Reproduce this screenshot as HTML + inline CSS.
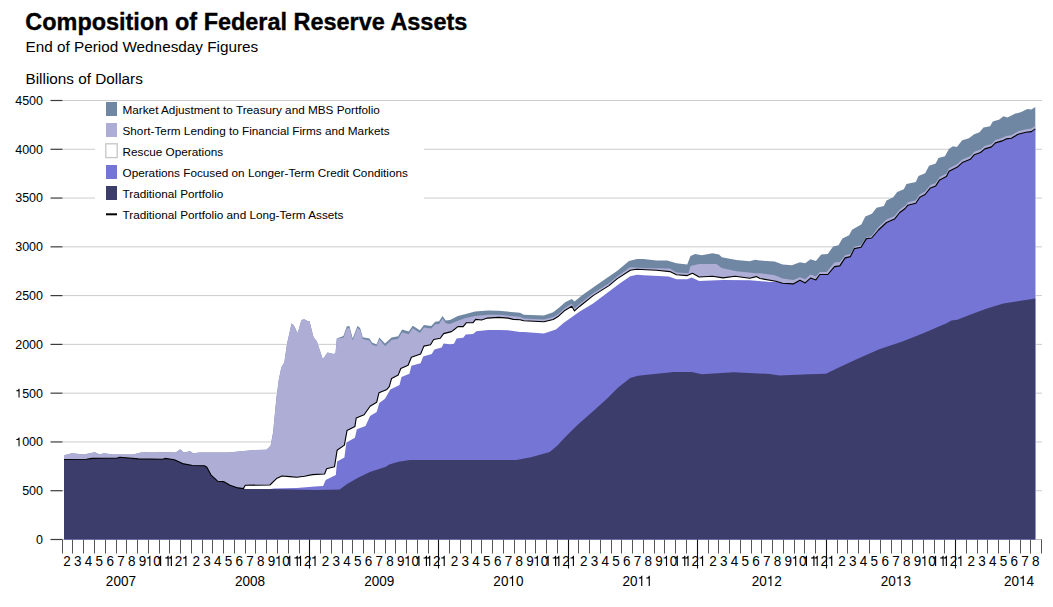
<!DOCTYPE html>
<html><head><meta charset="utf-8"><style>
html,body{margin:0;padding:0;background:#fff;width:1053px;height:607px;overflow:hidden}
svg{position:absolute;left:0;top:0}
text{font-family:"Liberation Sans",sans-serif;fill:#000}
.t1{font-size:23.45px;font-weight:bold;stroke:#000;stroke-width:0.35px}
.t2{font-size:15.3px}
.yl{font-size:12.5px}
.ml{font-size:14.5px}
.yr{font-size:14.4px}
.lg{font-size:11.75px}
</style></head><body>
<svg width="1053" height="607" viewBox="0 0 1053 607">
<defs><path id="one" d="M266 0L350 0L350 709L280 709C262 630 215 592 92 582L92 514L266 514Z"/></defs>
<text x="25.3" y="30.4" class="t1">Composition of Federal Reserve Assets</text>
<text x="25.5" y="51.8" class="t2">End of Period Wednesday Figures</text>
<text x="25.5" y="84" class="t2">Billions of Dollars</text>
<line x1="62.5" x2="1042" y1="490.72" y2="490.72" stroke="#cccccc" stroke-width="1"/>
<line x1="62.5" x2="1042" y1="441.94" y2="441.94" stroke="#cccccc" stroke-width="1"/>
<line x1="62.5" x2="1042" y1="393.17" y2="393.17" stroke="#cccccc" stroke-width="1"/>
<line x1="62.5" x2="1042" y1="344.39" y2="344.39" stroke="#cccccc" stroke-width="1"/>
<line x1="62.5" x2="1042" y1="295.61" y2="295.61" stroke="#cccccc" stroke-width="1"/>
<line x1="62.5" x2="1042" y1="246.83" y2="246.83" stroke="#cccccc" stroke-width="1"/>
<line x1="62.5" x2="1042" y1="198.06" y2="198.06" stroke="#cccccc" stroke-width="1"/>
<line x1="62.5" x2="1042" y1="149.28" y2="149.28" stroke="#cccccc" stroke-width="1"/>
<line x1="62.5" x2="1042" y1="100.5" y2="100.5" stroke="#cccccc" stroke-width="1"/>
<line x1="50.5" x2="62.5" y1="539.5" y2="539.5" stroke="#3c3c3c" stroke-width="1.2"/>
<g transform="translate(43,543.9) scale(1.0,1)"><text x="-6.95" y="0" style="font-size:12.5px">0</text></g>
<line x1="50.5" x2="62.5" y1="490.72" y2="490.72" stroke="#3c3c3c" stroke-width="1.2"/>
<g transform="translate(43,495.12) scale(1.0,1)"><text x="-20.86" y="0" style="font-size:12.5px">500</text></g>
<line x1="50.5" x2="62.5" y1="441.94" y2="441.94" stroke="#3c3c3c" stroke-width="1.2"/>
<g transform="translate(43,446.34) scale(1.0,1)"><use href="#one" transform="translate(-27.81,0) scale(0.01250,-0.01250)"/><text x="-20.86" y="0" style="font-size:12.5px">000</text></g>
<line x1="50.5" x2="62.5" y1="393.17" y2="393.17" stroke="#3c3c3c" stroke-width="1.2"/>
<g transform="translate(43,397.57) scale(1.0,1)"><use href="#one" transform="translate(-27.81,0) scale(0.01250,-0.01250)"/><text x="-20.86" y="0" style="font-size:12.5px">500</text></g>
<line x1="50.5" x2="62.5" y1="344.39" y2="344.39" stroke="#3c3c3c" stroke-width="1.2"/>
<g transform="translate(43,348.79) scale(1.0,1)"><text x="-27.81" y="0" style="font-size:12.5px">2000</text></g>
<line x1="50.5" x2="62.5" y1="295.61" y2="295.61" stroke="#3c3c3c" stroke-width="1.2"/>
<g transform="translate(43,300.01) scale(1.0,1)"><text x="-27.81" y="0" style="font-size:12.5px">2500</text></g>
<line x1="50.5" x2="62.5" y1="246.83" y2="246.83" stroke="#3c3c3c" stroke-width="1.2"/>
<g transform="translate(43,251.23) scale(1.0,1)"><text x="-27.81" y="0" style="font-size:12.5px">3000</text></g>
<line x1="50.5" x2="62.5" y1="198.06" y2="198.06" stroke="#3c3c3c" stroke-width="1.2"/>
<g transform="translate(43,202.46) scale(1.0,1)"><text x="-27.81" y="0" style="font-size:12.5px">3500</text></g>
<line x1="50.5" x2="62.5" y1="149.28" y2="149.28" stroke="#3c3c3c" stroke-width="1.2"/>
<g transform="translate(43,153.68) scale(1.0,1)"><text x="-27.81" y="0" style="font-size:12.5px">4000</text></g>
<line x1="50.5" x2="62.5" y1="100.5" y2="100.5" stroke="#3c3c3c" stroke-width="1.2"/>
<g transform="translate(43,104.9) scale(1.0,1)"><text x="-27.81" y="0" style="font-size:12.5px">4500</text></g>
<line x1="62" x2="1042" y1="539.5" y2="539.5" stroke="#bbb" stroke-width="1"/>
<polygon fill="#7087a3" points="64,539.5 64,455.3 72,453.3 83.9,454.4 94.6,452.2 99.9,454.6 103.9,453.3 113.2,454.4 133.1,454.4 141.1,452.6 146.4,452.2 151.8,452.6 163.7,452.2 175.7,452.6 180.3,449.3 183.7,452.6 190.3,451.3 193,453.3 200,452.6 228.2,452.6 254.8,450 266.5,449.8 270.6,445.7 273.1,432.5 276.4,397.9 278.8,379.8 281.3,367.4 284.3,362.5 287,343.9 291.6,323.3 294.2,325.9 297.6,333.2 301.5,319.9 304.2,319.3 307.5,321 309.5,321.3 313.5,337.2 316.8,341.2 322.8,359.2 327.5,352.5 333.5,353.9 335.5,353.2 336.8,338.6 343.4,335.9 346.8,326.6 349.4,325.9 352.7,338.6 357.4,325.9 360.1,327.9 362.7,337.2 369.4,338.6 372,342.6 376.6,344.5 379.3,337.5 385,343.4 391.6,337.5 398.2,336.2 402.1,329.6 408.7,331.6 412.7,325.7 419.9,330.3 423.9,325 431.2,326 435.2,321.7 439.1,321.3 442.5,316 445.8,320.6 450,320 457.9,316.1 465.8,314.1 475,311.5 488.2,310.5 498.7,310.8 520,312.8 523.9,314.8 543.9,315.5 553.2,312.2 559.8,306.9 565.2,302.2 571.8,298.9 574.5,301.5 582.4,294.9 593.1,287.6 606.4,278.3 617,271 629,261 637,259 643.3,259 656.6,260.6 667.2,260.6 676.5,263.3 687.2,264.6 690.5,256 695.2,254 701.8,255.3 712.4,253.3 719.1,254.6 721.8,257.3 736.4,259.9 749.7,261.3 755,259.7 760,260.6 774.6,261.6 782.6,264.6 791.9,265.2 799.9,262.2 805.2,263.2 810.5,259.3 815.9,260.9 821.2,254.6 827.8,253.9 833.1,246.6 838.5,245.3 842.4,238.6 849.1,235.3 852,229.8 861.3,224.5 865.3,216.5 871.9,213.8 876.6,207.8 883.9,205.9 886.5,200.5 893.2,197.2 897.2,191.9 903.8,189.2 906.5,183.9 915.8,181.9 918.5,175.9 925.1,173.3 929.1,165.8 935.7,163.4 938.4,158.1 944.9,156.2 948.9,148.9 952.9,146.2 956.9,146.9 962.2,140.2 968.9,138.2 974.2,134.2 979.5,132.2 983.5,127.6 990.1,126.2 992.8,121.6 999.4,119.6 1003.4,116.3 1007.4,117.6 1015.4,113.6 1020.7,112.3 1027.4,109 1031.4,109.4 1035.3,107 1035.3,539.5"/>
<polygon fill="#adadd6" points="64,539.5 64,455.3 72,453.3 83.9,454.4 94.6,452.2 99.9,454.6 103.9,453.3 113.2,454.4 133.1,454.4 141.1,452.6 146.4,452.2 151.8,452.6 163.7,452.2 175.7,452.6 180.3,449.3 183.7,452.6 190.3,451.3 193,453.3 200,452.6 228.2,452.6 254.8,450 266.5,449.8 270.6,445.7 273.1,432.5 276.4,397.9 278.8,379.8 281.3,367.4 284.3,362.5 287,343.9 291.6,323.3 294.2,325.9 297.6,333.2 301.5,319.9 304.2,319.3 307.5,321 309.5,321.3 313.5,337.2 316.8,341.2 322.8,359.2 327.5,352.5 333.5,353.9 335.5,353.2 336.8,338.6 343.4,337.7 346.8,328.4 349.4,327.7 352.7,340.4 357.4,327.7 360.1,329.7 362.7,339 369.4,340.4 372,344.4 376.6,346.3 379.3,339.3 385,346 391.6,340.1 398.2,338.8 402.1,332.2 408.7,334.2 412.7,328.3 419.9,332.9 423.9,327.6 431.2,328.6 435.2,324.3 439.1,323.9 442.5,318.6 445.8,323.2 450,324 457.9,320.7 465.8,318.1 475,316.1 488.2,314.8 498.7,314.8 520,316.7 523.9,318.4 543.9,319.4 553.2,317.1 558.5,313.8 565.2,307.8 571.8,303.8 574.5,308.5 579.8,303.8 593.1,293.2 609,283.2 617,276.5 630,267.3 643.3,267.9 669.9,268.6 676.5,272.6 688.5,273.2 690.5,265.9 699.1,263.9 716.4,263.9 721.8,267.9 736.4,271.3 756.3,273.2 760,273.2 774.6,275.2 782.6,278.5 793.2,279.9 799.9,277.2 805.2,279.2 810.5,274.5 815.9,276.5 819.8,271.9 826.5,271.9 834.5,262.6 839.8,261.9 845.1,255.3 850.4,253.9 854.4,246.6 861.1,245.3 866.4,237.3 871.7,236 878.5,227 886.5,219.5 894.5,216.1 899.8,209.5 905.2,205.5 907.8,202.2 915.8,200.2 919.8,194.2 925.1,191.5 930.4,184.9 935.7,182.9 939.7,176.9 946.4,173.6 949,168.3 957,164.3 962.3,159.6 970.3,156.3 974.3,151.7 980.5,149.5 984.8,145.9 991.5,143.9 995.4,139.9 1002.1,137.9 1006.1,135.9 1011.4,135.2 1018.1,131.2 1026,129.2 1031.4,128.6 1035.3,125.9 1035.3,539.5"/>
<polygon fill="#ffffff" points="64,539.5 64,459.5 86.6,459.3 91.9,458.4 117.2,458 119.8,457.3 138.5,458.9 162.4,459.3 165.1,458.4 174.4,459.7 183.7,463.9 190.3,465 192.3,465.5 204.3,465.7 206.9,467.3 210.9,474.8 217.6,481.2 223.5,481.6 230,485.3 238,487.9 243.3,488.6 245.3,485.3 269.9,485 276.5,478.6 281.9,476 289.8,476.6 296.5,477.3 304.5,476.2 312.4,474.6 324.6,474 326.6,468.8 334.5,466.8 337.1,450.3 344.4,445.1 347,430.6 354.9,426.6 356.2,418.1 364.1,414.8 370.1,406.2 376.7,402.2 379,392.7 386.9,389.4 389.3,386.7 391.6,378.4 398.2,375.1 400.8,368.5 408.1,365.2 411.4,357.3 420.6,354 423.9,346.1 430.5,344.8 433.7,339.5 440.3,338.2 443.6,333.6 451.5,331.6 454.6,329.3 457.9,326.6 463.2,326.6 466.5,322.7 473.1,322.7 475.7,319.4 481.6,320 487.5,318.1 498.7,317.4 508,318.1 513.2,319.4 520,319.8 523.9,320.8 543.9,321.8 553.2,319.5 558.5,316.2 565.2,310.2 571.8,306.2 574.5,310.9 579.8,306.2 593.1,295.6 609,285.6 617,278.9 630.3,270.3 636.6,269.3 656.6,270.3 669.9,271.6 676.5,274.8 687.2,275.6 692.5,273.2 699.1,277 712.4,276.2 723.1,277.9 735.1,276.2 749.7,278.3 756.3,276.6 760,278.5 776,281.2 782.6,283.2 793.2,283.9 799.9,280.3 805.2,282.9 810.5,278.1 815.9,279.9 819.8,274.5 827.8,274.5 834.5,266.6 839.8,265.9 845.1,257.9 850.4,256.6 854.4,248.6 861.1,247.3 866.4,238.6 871.7,238 878.5,230 886.5,222.5 894.5,219.1 899.8,212.5 905.2,208.5 907.8,205.2 915.8,203.2 919.8,197.2 925.1,194.5 930.4,187.9 935.7,185.9 939.7,179.9 946.4,176.6 949,171.3 957,167.3 962.3,162.6 970.3,159.3 974.3,154.7 980.5,152.5 984.8,148.9 991.5,146.9 995.4,142.9 1002.1,140.9 1006.1,138.9 1011.4,138.2 1018.1,134.2 1026,132.2 1031.4,131.6 1035.3,128.9 1035.3,539.5"/>
<polygon fill="#7575d5" points="64,539.5 64,459.5 86.6,459.3 91.9,458.4 117.2,458 119.8,457.3 138.5,458.9 162.4,459.3 165.1,458.4 174.4,459.7 183.7,463.9 190.3,465 192.3,465.5 204.3,465.7 206.9,467.3 210.9,474.8 217.6,481.2 223.5,481.6 230,485.3 238,487.9 243.3,488.6 245,489 270.7,489 273.9,488.6 296.5,487.9 315,486.5 323.1,485.9 325.7,480 335.8,475 337.1,461.5 344.4,457.6 346.4,442.4 354.9,437.8 356.9,429.3 365.5,426 370.1,416.1 376.7,412.1 379.3,402.9 385,398.8 390.3,389.6 399.5,385 401.5,377 409.4,373.7 411.4,365.8 420.6,363.2 423.2,356.6 431.8,354 434.4,349.4 441.7,347.4 443.6,343.4 450,344.2 454,343.7 456.6,338.5 463.2,337.8 465.8,334.5 473.1,333.9 476.4,331.2 488.2,329.9 498.7,329.9 508,330.3 520,331.9 523.9,332.1 543.9,333.5 555.9,329.5 563.8,322.8 579.8,311.5 593.1,303.5 606.4,293.6 619.7,283.6 630.3,276.3 637,274.7 643.3,275.2 668.6,276.6 676.5,279.2 687.2,279.2 691.8,277.5 699.1,281 723.1,279.9 749.7,280.2 770,281.9 776,281.4 782.6,283.2 793.2,283.9 799.9,280.3 805.2,282.9 810.5,278.1 815.9,279.9 819.8,274.5 827.8,274.5 834.5,266.6 839.8,265.9 845.1,257.9 850.4,256.6 854.4,248.6 861.1,247.3 866.4,238.6 871.7,238 878.5,230 886.5,222.5 894.5,219.1 899.8,212.5 905.2,208.5 907.8,205.2 915.8,203.2 919.8,197.2 925.1,194.5 930.4,187.9 935.7,185.9 939.7,179.9 946.4,176.6 949,171.3 957,167.3 962.3,162.6 970.3,159.3 974.3,154.7 980.5,152.5 984.8,148.9 991.5,146.9 995.4,142.9 1002.1,140.9 1006.1,138.9 1011.4,138.2 1018.1,134.2 1026,132.2 1031.4,131.6 1035.3,128.9 1035.3,539.5"/>
<polygon fill="#3d3d6c" points="64,539.5 64,459.5 86.6,459.3 91.9,458.4 117.2,458 119.8,457.3 138.5,458.9 162.4,459.3 165.1,458.4 174.4,459.7 183.7,463.9 190.3,465 192.3,465.5 204.3,465.7 206.9,467.3 210.9,474.8 217.6,481.2 223.5,481.6 230,485.3 238,487.9 243.3,488.6 245,489 270,489 315,489.9 339.7,489.6 347.1,483.9 358.5,477.6 369.9,471.9 385.9,466.8 389.3,464.5 398.4,461.7 409.8,460 430,459.9 516.4,459.9 531,457.2 549.7,451.9 557.7,445.3 564.3,438 577.1,425.2 593.1,411.2 607.7,397.9 618.4,387.3 630.3,378 637,376 640,375.5 673.9,371.9 691.8,371.9 701.8,374.3 733.7,372.3 769.6,373.9 779.6,375.5 809.5,374.3 826,373.8 837.8,367.9 857.1,359 879.3,349.3 903.1,341.2 923.9,333 940,326.1 946.1,323.4 951.5,320.4 957.3,319.8 968.8,315.2 986.1,308.8 1003.4,303.6 1020.7,300.8 1035.3,298.5 1035.3,539.5"/>
<polyline fill="none" stroke="#000" stroke-width="1.1" stroke-linejoin="round" points="64,459.5 86.6,459.3 91.9,458.4 117.2,458 119.8,457.3 138.5,458.9 162.4,459.3 165.1,458.4 174.4,459.7 183.7,463.9 190.3,465 192.3,465.5 204.3,465.7 206.9,467.3 210.9,474.8 217.6,481.2 223.5,481.6 230,485.3 238,487.9 243.3,488.6 245.3,485.3 269.9,485 276.5,478.6 281.9,476 289.8,476.6 296.5,477.3 304.5,476.2 312.4,474.6 324.6,474 326.6,468.8 334.5,466.8 337.1,450.3 344.4,445.1 347,430.6 354.9,426.6 356.2,418.1 364.1,414.8 370.1,406.2 376.7,402.2 379,392.7 386.9,389.4 389.3,386.7 391.6,378.4 398.2,375.1 400.8,368.5 408.1,365.2 411.4,357.3 420.6,354 423.9,346.1 430.5,344.8 433.7,339.5 440.3,338.2 443.6,333.6 451.5,331.6 454.6,329.3 457.9,326.6 463.2,326.6 466.5,322.7 473.1,322.7 475.7,319.4 481.6,320 487.5,318.1 498.7,317.4 508,318.1 513.2,319.4 520,319.8 523.9,320.8 543.9,321.8 553.2,319.5 558.5,316.2 565.2,310.2 571.8,306.2 574.5,310.9 579.8,306.2 593.1,295.6 609,285.6 617,278.9 630.3,270.3 636.6,269.3 656.6,270.3 669.9,271.6 676.5,274.8 687.2,275.6 692.5,273.2 699.1,277 712.4,276.2 723.1,277.9 735.1,276.2 749.7,278.3 756.3,276.6 760,278.5 776,281.2 782.6,283.2 793.2,283.9 799.9,280.3 805.2,282.9 810.5,278.1 815.9,279.9 819.8,274.5 827.8,274.5 834.5,266.6 839.8,265.9 845.1,257.9 850.4,256.6 854.4,248.6 861.1,247.3 866.4,238.6 871.7,238 878.5,230 886.5,222.5 894.5,219.1 899.8,212.5 905.2,208.5 907.8,205.2 915.8,203.2 919.8,197.2 925.1,194.5 930.4,187.9 935.7,185.9 939.7,179.9 946.4,176.6 949,171.3 957,167.3 962.3,162.6 970.3,159.3 974.3,154.7 980.5,152.5 984.8,148.9 991.5,146.9 995.4,142.9 1002.1,140.9 1006.1,138.9 1011.4,138.2 1018.1,134.2 1026,132.2 1031.4,131.6 1035.3,128.9"/>
<line x1="62.5" x2="62.5" y1="539.5" y2="553.5" stroke="#555555" stroke-width="1"/>
<line x1="72.5" x2="72.5" y1="539.5" y2="553.5" stroke="#555555" stroke-width="1"/>
<line x1="83.5" x2="83.5" y1="539.5" y2="553.5" stroke="#555555" stroke-width="1"/>
<line x1="94.5" x2="94.5" y1="539.5" y2="553.5" stroke="#555555" stroke-width="1"/>
<line x1="105.5" x2="105.5" y1="539.5" y2="553.5" stroke="#555555" stroke-width="1"/>
<line x1="116.5" x2="116.5" y1="539.5" y2="553.5" stroke="#555555" stroke-width="1"/>
<line x1="126.5" x2="126.5" y1="539.5" y2="553.5" stroke="#555555" stroke-width="1"/>
<line x1="137.5" x2="137.5" y1="539.5" y2="553.5" stroke="#555555" stroke-width="1"/>
<line x1="148.5" x2="148.5" y1="539.5" y2="553.5" stroke="#555555" stroke-width="1"/>
<line x1="159.5" x2="159.5" y1="539.5" y2="553.5" stroke="#555555" stroke-width="1"/>
<line x1="169.5" x2="169.5" y1="539.5" y2="553.5" stroke="#555555" stroke-width="1"/>
<line x1="180.5" x2="180.5" y1="539.5" y2="553.5" stroke="#555555" stroke-width="1"/>
<line x1="191.5" x2="191.5" y1="539.5" y2="553.5" stroke="#555555" stroke-width="1"/>
<line x1="202.5" x2="202.5" y1="539.5" y2="553.5" stroke="#555555" stroke-width="1"/>
<line x1="212.5" x2="212.5" y1="539.5" y2="553.5" stroke="#555555" stroke-width="1"/>
<line x1="223.5" x2="223.5" y1="539.5" y2="553.5" stroke="#555555" stroke-width="1"/>
<line x1="234.5" x2="234.5" y1="539.5" y2="553.5" stroke="#555555" stroke-width="1"/>
<line x1="245.5" x2="245.5" y1="539.5" y2="553.5" stroke="#555555" stroke-width="1"/>
<line x1="255.5" x2="255.5" y1="539.5" y2="553.5" stroke="#555555" stroke-width="1"/>
<line x1="266.5" x2="266.5" y1="539.5" y2="553.5" stroke="#555555" stroke-width="1"/>
<line x1="277.5" x2="277.5" y1="539.5" y2="553.5" stroke="#555555" stroke-width="1"/>
<line x1="288.5" x2="288.5" y1="539.5" y2="553.5" stroke="#555555" stroke-width="1"/>
<line x1="299.5" x2="299.5" y1="539.5" y2="553.5" stroke="#555555" stroke-width="1"/>
<line x1="309.5" x2="309.5" y1="539.5" y2="568.5" stroke="#111" stroke-width="1.1"/>
<line x1="320.5" x2="320.5" y1="539.5" y2="553.5" stroke="#555555" stroke-width="1"/>
<line x1="331.5" x2="331.5" y1="539.5" y2="553.5" stroke="#555555" stroke-width="1"/>
<line x1="342.5" x2="342.5" y1="539.5" y2="553.5" stroke="#555555" stroke-width="1"/>
<line x1="352.5" x2="352.5" y1="539.5" y2="553.5" stroke="#555555" stroke-width="1"/>
<line x1="363.5" x2="363.5" y1="539.5" y2="553.5" stroke="#555555" stroke-width="1"/>
<line x1="374.5" x2="374.5" y1="539.5" y2="553.5" stroke="#555555" stroke-width="1"/>
<line x1="385.5" x2="385.5" y1="539.5" y2="553.5" stroke="#555555" stroke-width="1"/>
<line x1="395.5" x2="395.5" y1="539.5" y2="553.5" stroke="#555555" stroke-width="1"/>
<line x1="406.5" x2="406.5" y1="539.5" y2="553.5" stroke="#555555" stroke-width="1"/>
<line x1="417.5" x2="417.5" y1="539.5" y2="553.5" stroke="#555555" stroke-width="1"/>
<line x1="428.5" x2="428.5" y1="539.5" y2="553.5" stroke="#555555" stroke-width="1"/>
<line x1="438.5" x2="438.5" y1="539.5" y2="568.5" stroke="#111" stroke-width="1.1"/>
<line x1="449.5" x2="449.5" y1="539.5" y2="553.5" stroke="#555555" stroke-width="1"/>
<line x1="460.5" x2="460.5" y1="539.5" y2="553.5" stroke="#555555" stroke-width="1"/>
<line x1="471.5" x2="471.5" y1="539.5" y2="553.5" stroke="#555555" stroke-width="1"/>
<line x1="481.5" x2="481.5" y1="539.5" y2="553.5" stroke="#555555" stroke-width="1"/>
<line x1="492.5" x2="492.5" y1="539.5" y2="553.5" stroke="#555555" stroke-width="1"/>
<line x1="503.5" x2="503.5" y1="539.5" y2="553.5" stroke="#555555" stroke-width="1"/>
<line x1="514.5" x2="514.5" y1="539.5" y2="553.5" stroke="#555555" stroke-width="1"/>
<line x1="525.5" x2="525.5" y1="539.5" y2="553.5" stroke="#555555" stroke-width="1"/>
<line x1="535.5" x2="535.5" y1="539.5" y2="553.5" stroke="#555555" stroke-width="1"/>
<line x1="546.5" x2="546.5" y1="539.5" y2="553.5" stroke="#555555" stroke-width="1"/>
<line x1="557.5" x2="557.5" y1="539.5" y2="553.5" stroke="#555555" stroke-width="1"/>
<line x1="568.5" x2="568.5" y1="539.5" y2="568.5" stroke="#111" stroke-width="1.1"/>
<line x1="578.5" x2="578.5" y1="539.5" y2="553.5" stroke="#555555" stroke-width="1"/>
<line x1="589.5" x2="589.5" y1="539.5" y2="553.5" stroke="#555555" stroke-width="1"/>
<line x1="600.5" x2="600.5" y1="539.5" y2="553.5" stroke="#555555" stroke-width="1"/>
<line x1="611.5" x2="611.5" y1="539.5" y2="553.5" stroke="#555555" stroke-width="1"/>
<line x1="621.5" x2="621.5" y1="539.5" y2="553.5" stroke="#555555" stroke-width="1"/>
<line x1="632.5" x2="632.5" y1="539.5" y2="553.5" stroke="#555555" stroke-width="1"/>
<line x1="643.5" x2="643.5" y1="539.5" y2="553.5" stroke="#555555" stroke-width="1"/>
<line x1="654.5" x2="654.5" y1="539.5" y2="553.5" stroke="#555555" stroke-width="1"/>
<line x1="664.5" x2="664.5" y1="539.5" y2="553.5" stroke="#555555" stroke-width="1"/>
<line x1="675.5" x2="675.5" y1="539.5" y2="553.5" stroke="#555555" stroke-width="1"/>
<line x1="686.5" x2="686.5" y1="539.5" y2="553.5" stroke="#555555" stroke-width="1"/>
<line x1="697.5" x2="697.5" y1="539.5" y2="568.5" stroke="#111" stroke-width="1.1"/>
<line x1="708.5" x2="708.5" y1="539.5" y2="553.5" stroke="#555555" stroke-width="1"/>
<line x1="718.5" x2="718.5" y1="539.5" y2="553.5" stroke="#555555" stroke-width="1"/>
<line x1="729.5" x2="729.5" y1="539.5" y2="553.5" stroke="#555555" stroke-width="1"/>
<line x1="740.5" x2="740.5" y1="539.5" y2="553.5" stroke="#555555" stroke-width="1"/>
<line x1="751.5" x2="751.5" y1="539.5" y2="553.5" stroke="#555555" stroke-width="1"/>
<line x1="761.5" x2="761.5" y1="539.5" y2="553.5" stroke="#555555" stroke-width="1"/>
<line x1="772.5" x2="772.5" y1="539.5" y2="553.5" stroke="#555555" stroke-width="1"/>
<line x1="783.5" x2="783.5" y1="539.5" y2="553.5" stroke="#555555" stroke-width="1"/>
<line x1="794.5" x2="794.5" y1="539.5" y2="553.5" stroke="#555555" stroke-width="1"/>
<line x1="804.5" x2="804.5" y1="539.5" y2="553.5" stroke="#555555" stroke-width="1"/>
<line x1="815.5" x2="815.5" y1="539.5" y2="553.5" stroke="#555555" stroke-width="1"/>
<line x1="826.5" x2="826.5" y1="539.5" y2="568.5" stroke="#111" stroke-width="1.1"/>
<line x1="837.5" x2="837.5" y1="539.5" y2="553.5" stroke="#555555" stroke-width="1"/>
<line x1="847.5" x2="847.5" y1="539.5" y2="553.5" stroke="#555555" stroke-width="1"/>
<line x1="858.5" x2="858.5" y1="539.5" y2="553.5" stroke="#555555" stroke-width="1"/>
<line x1="869.5" x2="869.5" y1="539.5" y2="553.5" stroke="#555555" stroke-width="1"/>
<line x1="880.5" x2="880.5" y1="539.5" y2="553.5" stroke="#555555" stroke-width="1"/>
<line x1="891.5" x2="891.5" y1="539.5" y2="553.5" stroke="#555555" stroke-width="1"/>
<line x1="901.5" x2="901.5" y1="539.5" y2="553.5" stroke="#555555" stroke-width="1"/>
<line x1="912.5" x2="912.5" y1="539.5" y2="553.5" stroke="#555555" stroke-width="1"/>
<line x1="923.5" x2="923.5" y1="539.5" y2="553.5" stroke="#555555" stroke-width="1"/>
<line x1="934.5" x2="934.5" y1="539.5" y2="553.5" stroke="#555555" stroke-width="1"/>
<line x1="944.5" x2="944.5" y1="539.5" y2="553.5" stroke="#555555" stroke-width="1"/>
<line x1="955.5" x2="955.5" y1="539.5" y2="568.5" stroke="#111" stroke-width="1.1"/>
<line x1="966.5" x2="966.5" y1="539.5" y2="553.5" stroke="#555555" stroke-width="1"/>
<line x1="977.5" x2="977.5" y1="539.5" y2="553.5" stroke="#555555" stroke-width="1"/>
<line x1="987.5" x2="987.5" y1="539.5" y2="553.5" stroke="#555555" stroke-width="1"/>
<line x1="998.5" x2="998.5" y1="539.5" y2="553.5" stroke="#555555" stroke-width="1"/>
<line x1="1009.5" x2="1009.5" y1="539.5" y2="553.5" stroke="#555555" stroke-width="1"/>
<line x1="1020.5" x2="1020.5" y1="539.5" y2="553.5" stroke="#555555" stroke-width="1"/>
<line x1="1030.5" x2="1030.5" y1="539.5" y2="553.5" stroke="#555555" stroke-width="1"/>
<line x1="1041.5" x2="1041.5" y1="539.5" y2="553.5" stroke="#555555" stroke-width="1"/>
<g transform="translate(67.08,566) scale(0.93,1)"><text x="-4.03" y="0" style="font-size:14.5px">2</text></g>
<g transform="translate(77.85,566) scale(0.93,1)"><text x="-4.03" y="0" style="font-size:14.5px">3</text></g>
<g transform="translate(88.61,566) scale(0.93,1)"><text x="-4.03" y="0" style="font-size:14.5px">4</text></g>
<g transform="translate(99.37,566) scale(0.93,1)"><text x="-4.03" y="0" style="font-size:14.5px">5</text></g>
<g transform="translate(110.14,566) scale(0.93,1)"><text x="-4.03" y="0" style="font-size:14.5px">6</text></g>
<g transform="translate(120.9,566) scale(0.93,1)"><text x="-4.03" y="0" style="font-size:14.5px">7</text></g>
<g transform="translate(131.66,566) scale(0.93,1)"><text x="-4.03" y="0" style="font-size:14.5px">8</text></g>
<g transform="translate(142.43,566) scale(0.93,1)"><text x="-4.03" y="0" style="font-size:14.5px">9</text></g>
<g transform="translate(153.19,566) scale(0.93,1)"><use href="#one" transform="translate(-8.06,0) scale(0.01450,-0.01450)"/><text x="0" y="0" style="font-size:14.5px">0</text></g>
<g transform="translate(163.96,566) scale(0.93,1)"><use href="#one" transform="translate(-8.06,0) scale(0.01450,-0.01450)"/><use href="#one" transform="translate(0,0) scale(0.01450,-0.01450)"/></g>
<g transform="translate(174.72,566) scale(0.93,1)"><use href="#one" transform="translate(-8.06,0) scale(0.01450,-0.01450)"/><text x="0" y="0" style="font-size:14.5px">2</text></g>
<g transform="translate(185.48,566) scale(0.93,1)"><use href="#one" transform="translate(-4.03,0) scale(0.01450,-0.01450)"/></g>
<g transform="translate(196.25,566) scale(0.93,1)"><text x="-4.03" y="0" style="font-size:14.5px">2</text></g>
<g transform="translate(207.01,566) scale(0.93,1)"><text x="-4.03" y="0" style="font-size:14.5px">3</text></g>
<g transform="translate(217.77,566) scale(0.93,1)"><text x="-4.03" y="0" style="font-size:14.5px">4</text></g>
<g transform="translate(228.54,566) scale(0.93,1)"><text x="-4.03" y="0" style="font-size:14.5px">5</text></g>
<g transform="translate(239.3,566) scale(0.93,1)"><text x="-4.03" y="0" style="font-size:14.5px">6</text></g>
<g transform="translate(250.07,566) scale(0.93,1)"><text x="-4.03" y="0" style="font-size:14.5px">7</text></g>
<g transform="translate(260.83,566) scale(0.93,1)"><text x="-4.03" y="0" style="font-size:14.5px">8</text></g>
<g transform="translate(271.59,566) scale(0.93,1)"><text x="-4.03" y="0" style="font-size:14.5px">9</text></g>
<g transform="translate(282.36,566) scale(0.93,1)"><use href="#one" transform="translate(-8.06,0) scale(0.01450,-0.01450)"/><text x="0" y="0" style="font-size:14.5px">0</text></g>
<g transform="translate(293.12,566) scale(0.93,1)"><use href="#one" transform="translate(-8.06,0) scale(0.01450,-0.01450)"/><use href="#one" transform="translate(0,0) scale(0.01450,-0.01450)"/></g>
<g transform="translate(303.88,566) scale(0.93,1)"><use href="#one" transform="translate(-8.06,0) scale(0.01450,-0.01450)"/><text x="0" y="0" style="font-size:14.5px">2</text></g>
<g transform="translate(314.65,566) scale(0.93,1)"><use href="#one" transform="translate(-4.03,0) scale(0.01450,-0.01450)"/></g>
<g transform="translate(325.41,566) scale(0.93,1)"><text x="-4.03" y="0" style="font-size:14.5px">2</text></g>
<g transform="translate(336.18,566) scale(0.93,1)"><text x="-4.03" y="0" style="font-size:14.5px">3</text></g>
<g transform="translate(346.94,566) scale(0.93,1)"><text x="-4.03" y="0" style="font-size:14.5px">4</text></g>
<g transform="translate(357.7,566) scale(0.93,1)"><text x="-4.03" y="0" style="font-size:14.5px">5</text></g>
<g transform="translate(368.47,566) scale(0.93,1)"><text x="-4.03" y="0" style="font-size:14.5px">6</text></g>
<g transform="translate(379.23,566) scale(0.93,1)"><text x="-4.03" y="0" style="font-size:14.5px">7</text></g>
<g transform="translate(389.99,566) scale(0.93,1)"><text x="-4.03" y="0" style="font-size:14.5px">8</text></g>
<g transform="translate(400.76,566) scale(0.93,1)"><text x="-4.03" y="0" style="font-size:14.5px">9</text></g>
<g transform="translate(411.52,566) scale(0.93,1)"><use href="#one" transform="translate(-8.06,0) scale(0.01450,-0.01450)"/><text x="0" y="0" style="font-size:14.5px">0</text></g>
<g transform="translate(422.29,566) scale(0.93,1)"><use href="#one" transform="translate(-8.06,0) scale(0.01450,-0.01450)"/><use href="#one" transform="translate(0,0) scale(0.01450,-0.01450)"/></g>
<g transform="translate(433.05,566) scale(0.93,1)"><use href="#one" transform="translate(-8.06,0) scale(0.01450,-0.01450)"/><text x="0" y="0" style="font-size:14.5px">2</text></g>
<g transform="translate(443.81,566) scale(0.93,1)"><use href="#one" transform="translate(-4.03,0) scale(0.01450,-0.01450)"/></g>
<g transform="translate(454.58,566) scale(0.93,1)"><text x="-4.03" y="0" style="font-size:14.5px">2</text></g>
<g transform="translate(465.34,566) scale(0.93,1)"><text x="-4.03" y="0" style="font-size:14.5px">3</text></g>
<g transform="translate(476.1,566) scale(0.93,1)"><text x="-4.03" y="0" style="font-size:14.5px">4</text></g>
<g transform="translate(486.87,566) scale(0.93,1)"><text x="-4.03" y="0" style="font-size:14.5px">5</text></g>
<g transform="translate(497.63,566) scale(0.93,1)"><text x="-4.03" y="0" style="font-size:14.5px">6</text></g>
<g transform="translate(508.4,566) scale(0.93,1)"><text x="-4.03" y="0" style="font-size:14.5px">7</text></g>
<g transform="translate(519.16,566) scale(0.93,1)"><text x="-4.03" y="0" style="font-size:14.5px">8</text></g>
<g transform="translate(529.92,566) scale(0.93,1)"><text x="-4.03" y="0" style="font-size:14.5px">9</text></g>
<g transform="translate(540.69,566) scale(0.93,1)"><use href="#one" transform="translate(-8.06,0) scale(0.01450,-0.01450)"/><text x="0" y="0" style="font-size:14.5px">0</text></g>
<g transform="translate(551.45,566) scale(0.93,1)"><use href="#one" transform="translate(-8.06,0) scale(0.01450,-0.01450)"/><use href="#one" transform="translate(0,0) scale(0.01450,-0.01450)"/></g>
<g transform="translate(562.21,566) scale(0.93,1)"><use href="#one" transform="translate(-8.06,0) scale(0.01450,-0.01450)"/><text x="0" y="0" style="font-size:14.5px">2</text></g>
<g transform="translate(572.98,566) scale(0.93,1)"><use href="#one" transform="translate(-4.03,0) scale(0.01450,-0.01450)"/></g>
<g transform="translate(583.74,566) scale(0.93,1)"><text x="-4.03" y="0" style="font-size:14.5px">2</text></g>
<g transform="translate(594.5,566) scale(0.93,1)"><text x="-4.03" y="0" style="font-size:14.5px">3</text></g>
<g transform="translate(605.27,566) scale(0.93,1)"><text x="-4.03" y="0" style="font-size:14.5px">4</text></g>
<g transform="translate(616.03,566) scale(0.93,1)"><text x="-4.03" y="0" style="font-size:14.5px">5</text></g>
<g transform="translate(626.8,566) scale(0.93,1)"><text x="-4.03" y="0" style="font-size:14.5px">6</text></g>
<g transform="translate(637.56,566) scale(0.93,1)"><text x="-4.03" y="0" style="font-size:14.5px">7</text></g>
<g transform="translate(648.32,566) scale(0.93,1)"><text x="-4.03" y="0" style="font-size:14.5px">8</text></g>
<g transform="translate(659.09,566) scale(0.93,1)"><text x="-4.03" y="0" style="font-size:14.5px">9</text></g>
<g transform="translate(669.85,566) scale(0.93,1)"><use href="#one" transform="translate(-8.06,0) scale(0.01450,-0.01450)"/><text x="0" y="0" style="font-size:14.5px">0</text></g>
<g transform="translate(680.61,566) scale(0.93,1)"><use href="#one" transform="translate(-8.06,0) scale(0.01450,-0.01450)"/><use href="#one" transform="translate(0,0) scale(0.01450,-0.01450)"/></g>
<g transform="translate(691.38,566) scale(0.93,1)"><use href="#one" transform="translate(-8.06,0) scale(0.01450,-0.01450)"/><text x="0" y="0" style="font-size:14.5px">2</text></g>
<g transform="translate(702.14,566) scale(0.93,1)"><use href="#one" transform="translate(-4.03,0) scale(0.01450,-0.01450)"/></g>
<g transform="translate(712.91,566) scale(0.93,1)"><text x="-4.03" y="0" style="font-size:14.5px">2</text></g>
<g transform="translate(723.67,566) scale(0.93,1)"><text x="-4.03" y="0" style="font-size:14.5px">3</text></g>
<g transform="translate(734.43,566) scale(0.93,1)"><text x="-4.03" y="0" style="font-size:14.5px">4</text></g>
<g transform="translate(745.2,566) scale(0.93,1)"><text x="-4.03" y="0" style="font-size:14.5px">5</text></g>
<g transform="translate(755.96,566) scale(0.93,1)"><text x="-4.03" y="0" style="font-size:14.5px">6</text></g>
<g transform="translate(766.72,566) scale(0.93,1)"><text x="-4.03" y="0" style="font-size:14.5px">7</text></g>
<g transform="translate(777.49,566) scale(0.93,1)"><text x="-4.03" y="0" style="font-size:14.5px">8</text></g>
<g transform="translate(788.25,566) scale(0.93,1)"><text x="-4.03" y="0" style="font-size:14.5px">9</text></g>
<g transform="translate(799.02,566) scale(0.93,1)"><use href="#one" transform="translate(-8.06,0) scale(0.01450,-0.01450)"/><text x="0" y="0" style="font-size:14.5px">0</text></g>
<g transform="translate(809.78,566) scale(0.93,1)"><use href="#one" transform="translate(-8.06,0) scale(0.01450,-0.01450)"/><use href="#one" transform="translate(0,0) scale(0.01450,-0.01450)"/></g>
<g transform="translate(820.54,566) scale(0.93,1)"><use href="#one" transform="translate(-8.06,0) scale(0.01450,-0.01450)"/><text x="0" y="0" style="font-size:14.5px">2</text></g>
<g transform="translate(831.31,566) scale(0.93,1)"><use href="#one" transform="translate(-4.03,0) scale(0.01450,-0.01450)"/></g>
<g transform="translate(842.07,566) scale(0.93,1)"><text x="-4.03" y="0" style="font-size:14.5px">2</text></g>
<g transform="translate(852.83,566) scale(0.93,1)"><text x="-4.03" y="0" style="font-size:14.5px">3</text></g>
<g transform="translate(863.6,566) scale(0.93,1)"><text x="-4.03" y="0" style="font-size:14.5px">4</text></g>
<g transform="translate(874.36,566) scale(0.93,1)"><text x="-4.03" y="0" style="font-size:14.5px">5</text></g>
<g transform="translate(885.13,566) scale(0.93,1)"><text x="-4.03" y="0" style="font-size:14.5px">6</text></g>
<g transform="translate(895.89,566) scale(0.93,1)"><text x="-4.03" y="0" style="font-size:14.5px">7</text></g>
<g transform="translate(906.65,566) scale(0.93,1)"><text x="-4.03" y="0" style="font-size:14.5px">8</text></g>
<g transform="translate(917.42,566) scale(0.93,1)"><text x="-4.03" y="0" style="font-size:14.5px">9</text></g>
<g transform="translate(928.18,566) scale(0.93,1)"><use href="#one" transform="translate(-8.06,0) scale(0.01450,-0.01450)"/><text x="0" y="0" style="font-size:14.5px">0</text></g>
<g transform="translate(938.94,566) scale(0.93,1)"><use href="#one" transform="translate(-8.06,0) scale(0.01450,-0.01450)"/><use href="#one" transform="translate(0,0) scale(0.01450,-0.01450)"/></g>
<g transform="translate(949.71,566) scale(0.93,1)"><use href="#one" transform="translate(-8.06,0) scale(0.01450,-0.01450)"/><text x="0" y="0" style="font-size:14.5px">2</text></g>
<g transform="translate(960.47,566) scale(0.93,1)"><use href="#one" transform="translate(-4.03,0) scale(0.01450,-0.01450)"/></g>
<g transform="translate(971.24,566) scale(0.93,1)"><text x="-4.03" y="0" style="font-size:14.5px">2</text></g>
<g transform="translate(982,566) scale(0.93,1)"><text x="-4.03" y="0" style="font-size:14.5px">3</text></g>
<g transform="translate(992.76,566) scale(0.93,1)"><text x="-4.03" y="0" style="font-size:14.5px">4</text></g>
<g transform="translate(1003.53,566) scale(0.93,1)"><text x="-4.03" y="0" style="font-size:14.5px">5</text></g>
<g transform="translate(1014.29,566) scale(0.93,1)"><text x="-4.03" y="0" style="font-size:14.5px">6</text></g>
<g transform="translate(1025.05,566) scale(0.93,1)"><text x="-4.03" y="0" style="font-size:14.5px">7</text></g>
<g transform="translate(1035.82,566) scale(0.93,1)"><text x="-4.03" y="0" style="font-size:14.5px">8</text></g>
<g transform="translate(120.9,586) scale(0.94,1)"><text x="-16.02" y="0" style="font-size:14.4px">2007</text></g>
<g transform="translate(250.07,586) scale(0.94,1)"><text x="-16.02" y="0" style="font-size:14.4px">2008</text></g>
<g transform="translate(379.23,586) scale(0.94,1)"><text x="-16.02" y="0" style="font-size:14.4px">2009</text></g>
<g transform="translate(508.4,586) scale(0.94,1)"><text x="-16.02" y="0" style="font-size:14.4px">20</text><use href="#one" transform="translate(0,0) scale(0.01440,-0.01440)"/><text x="8.01" y="0" style="font-size:14.4px">0</text></g>
<g transform="translate(637.56,586) scale(0.94,1)"><text x="-16.02" y="0" style="font-size:14.4px">20</text><use href="#one" transform="translate(0,0) scale(0.01440,-0.01440)"/><use href="#one" transform="translate(8.01,0) scale(0.01440,-0.01440)"/></g>
<g transform="translate(766.72,586) scale(0.94,1)"><text x="-16.02" y="0" style="font-size:14.4px">20</text><use href="#one" transform="translate(0,0) scale(0.01440,-0.01440)"/><text x="8.01" y="0" style="font-size:14.4px">2</text></g>
<g transform="translate(895.89,586) scale(0.94,1)"><text x="-16.02" y="0" style="font-size:14.4px">20</text><use href="#one" transform="translate(0,0) scale(0.01440,-0.01440)"/><text x="8.01" y="0" style="font-size:14.4px">3</text></g>
<g transform="translate(1019.1,586) scale(0.94,1)"><text x="-16.02" y="0" style="font-size:14.4px">20</text><use href="#one" transform="translate(0,0) scale(0.01440,-0.01440)"/><text x="8.01" y="0" style="font-size:14.4px">4</text></g>
<rect x="95" y="101.5" width="329" height="123" fill="#fff"/>
<rect x="106" y="102" width="11" height="14" fill="#7087a3"/>
<text x="122.5" y="114" class="lg">Market Adjustment to Treasury and MBS Portfolio</text>
<rect x="106" y="123" width="11" height="14" fill="#adadd6"/>
<text x="122.5" y="135" class="lg">Short-Term Lending to Financial Firms and Markets</text>
<rect x="105.8" y="143.8" width="11.4" height="13.8" fill="#fff" stroke="#c6c6c6" stroke-width="1.3"/>
<text x="122.5" y="156" class="lg">Rescue Operations</text>
<rect x="106" y="165" width="11" height="14" fill="#7575d5"/>
<text x="122.5" y="177" class="lg">Operations Focused on Longer-Term Credit Conditions</text>
<rect x="106" y="186" width="11" height="14" fill="#3d3d6c"/>
<text x="122.5" y="198" class="lg">Traditional Portfolio</text>
<line x1="106" x2="117" y1="214.3" y2="214.3" stroke="#000" stroke-width="2"/>
<text x="122.5" y="219" class="lg">Traditional Portfolio and Long-Term Assets</text>
</svg>
</body></html>
